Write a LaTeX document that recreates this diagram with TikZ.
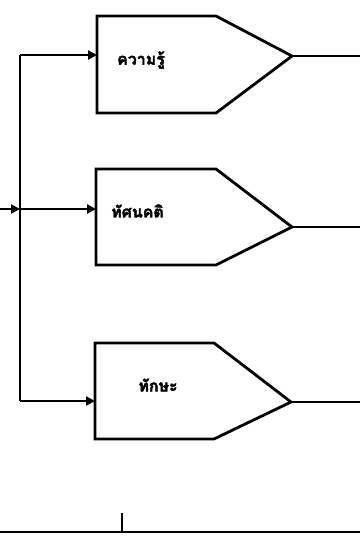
\documentclass[tikz,border=0pt]{standalone}
\usepackage{fontspec}
\newfontfamily\thaifont[Script=Thai,BoldFeatures={FakeBold=2.5}]{Loma}
\usetikzlibrary{arrows.meta}
\begin{document}
\begin{tikzpicture}[x=1bp,y=-1bp,
  line/.style={line width=2.8bp,line join=miter},
  arr/.style={line,-{Triangle[length=9bp,width=9bp]}},
  lbl/.style={font=\thaifont\bfseries\fontsize{16}{18}\selectfont,inner sep=0pt,anchor=center}]
\useasboundingbox (0,0) rectangle (360,546);
% box 1
\coordinate (b1tl) at (97,16);
\coordinate (b1ts) at (216,16);
\coordinate (b1tip) at (292,56);
\coordinate (b1bs) at (216,113);
\coordinate (b1bl) at (97,113);
\coordinate (b1in) at (97,55);
\draw[line] (b1tl) -- (b1ts) -- (b1tip) -- (b1bs) -- (b1bl) -- cycle;
% box 2
\coordinate (b2tl) at (96,169);
\coordinate (b2ts) at (216,169);
\coordinate (b2tip) at (292,227);
\coordinate (b2bs) at (216,265);
\coordinate (b2bl) at (96,265);
\coordinate (b2in) at (96,209);
\draw[line] (b2tl) -- (b2ts) -- (b2tip) -- (b2bs) -- (b2bl) -- cycle;
% box 3
\coordinate (b3tl) at (95,343);
\coordinate (b3ts) at (214,343);
\coordinate (b3tip) at (291,402);
\coordinate (b3bs) at (214,439);
\coordinate (b3bl) at (95,439);
\coordinate (b3in) at (95,401);
\draw[line] (b3tl) -- (b3ts) -- (b3tip) -- (b3bs) -- (b3bl) -- cycle;
% labels
\node[lbl] (l1) at (141,60) {ความรู้};
\node[lbl] (l2) at (137.5,211) {ทัศนคติ};
\node[lbl] (l3) at (158,385) {ทักษะ};
% trunk
\coordinate (t1) at (20,55);
\coordinate (t2) at (20,209);
\coordinate (t3) at (20,401);
\coordinate (src) at (0,209);
\draw[arr] (src) -- (t2);
\draw[line] (t1) -- (t3);
\draw[arr] (t1) -- (b1in);
\draw[arr] (t2) -- (b2in);
\draw[arr] (t3) -- (b3in);
% outputs
\coordinate (o1) at (360,56);
\coordinate (o2) at (360,227);
\coordinate (o3) at (360,402);
\draw[line] (b1tip) -- (o1);
\draw[line] (b2tip) -- (o2);
\draw[line] (b3tip) -- (o3);
% bottom line
\coordinate (bl) at (0,532);
\coordinate (br) at (360,532);
\coordinate (tk) at (122,532);
\coordinate (tkt) at (122,513);
\draw[line] (bl) -- (br);
\draw[line] (tk) -- (tkt);
\end{tikzpicture}
\end{document}
